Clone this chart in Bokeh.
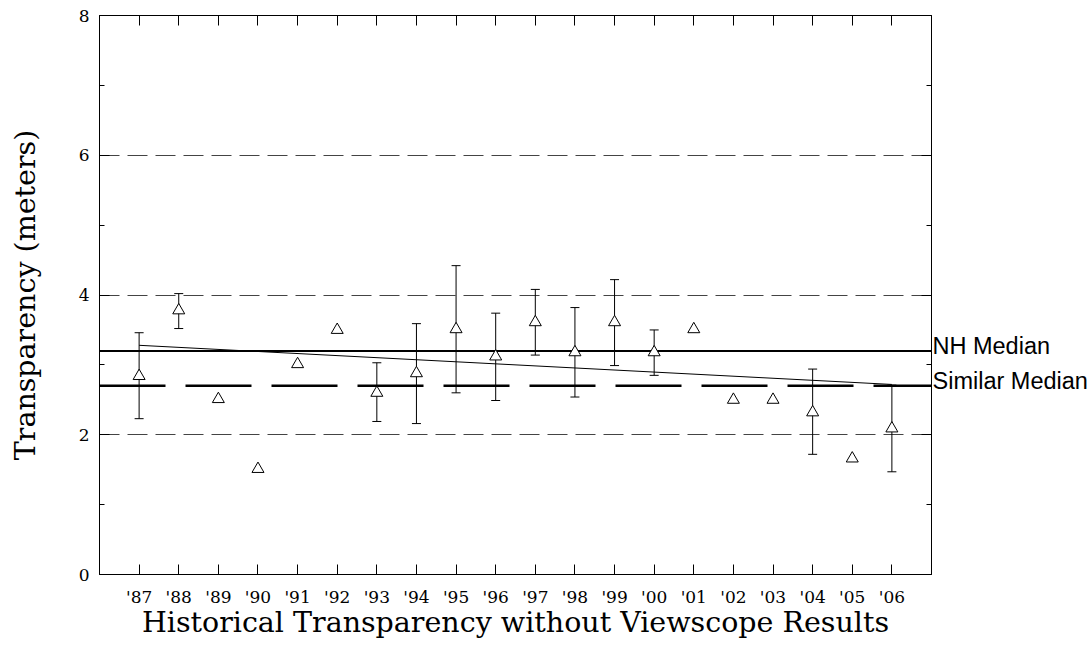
from bokeh.plotting import figure
from bokeh.models import (ColumnDataSource, Whisker, TeeHead, Span, LinearAxis,
                          FixedTicker, Range1d)
from bokeh.embed import file_html
from bokeh.resources import INLINE

# ---- data ----
years = ["'87", "'88", "'89", "'90", "'91", "'92", "'93", "'94", "'95", "'96",
         "'97", "'98", "'99", "'00", "'01", "'02", "'03", "'04", "'05", "'06"]
transparency = [2.84, 3.78, 2.51, 1.51, 3.01, 3.50, 2.60, 2.88, 3.51, 3.12,
                3.61, 3.18, 3.61, 3.18, 3.51, 2.50, 2.50, 2.32, 1.66, 2.09]
err_upper = [3.46, 4.02, None, None, None, None, 3.03, 3.59, 4.42, 3.74,
             4.08, 3.82, 4.22, 3.50, None, None, None, 2.94, None, 2.71]
err_lower = [2.23, 3.52, None, None, None, None, 2.19, 2.16, 2.60, 2.49,
             3.14, 2.54, 2.99, 2.85, None, None, None, 1.72, None, 1.47]
nh_median = 3.2
similar_median = 2.7
median_labels = ["NH Median", "Similar Median"]
trend = [3.28, 2.72]          # trend line value at first and last year
y_major = [0, 2, 4, 6, 8]
y_minor = [1, 3, 5, 7]
y_grid_values = [2, 4, 6]

xs = list(range(len(years)))

p = figure(width=1092, height=649, output_backend="svg", toolbar_location=None,
           x_range=Range1d(-1, len(years)), y_range=Range1d(0, 8),
           min_border_left=99, min_border_right=161, min_border_top=15, min_border_bottom=75,
           background_fill_color="white", border_fill_color="white")

p.outline_line_color = "black"
p.outline_line_width = 1

# grid
p.xgrid.visible = False
p.ygrid.ticker = FixedTicker(ticks=y_grid_values)
p.ygrid.grid_line_color = "#444444"
p.ygrid.grid_line_width = 1
p.ygrid.grid_line_dash = "20 8"

# axes
serif = "DejaVu Serif"
p.xaxis.ticker = FixedTicker(ticks=xs)
p.xaxis.major_label_overrides = {i: y for i, y in enumerate(years)}
p.yaxis.ticker = FixedTicker(ticks=y_major, minor_ticks=y_minor)
for ax in (p.xaxis[0], p.yaxis[0]):
    ax.major_tick_in = 10
    ax.major_tick_out = 0
    ax.minor_tick_in = 5
    ax.minor_tick_out = 0
    ax.axis_line_color = "black"
    ax.major_tick_line_color = "black"
    ax.minor_tick_line_color = "black"
    ax.major_label_text_font = serif
    ax.major_label_text_font_size = "17px"
    ax.major_label_text_color = "black"
    ax.axis_label_text_font = serif
    ax.axis_label_text_font_size = "28.5px"
    ax.axis_label_text_font_style = "normal"
    ax.axis_label_text_color = "black"
p.xaxis.minor_tick_line_color = None
p.xaxis.major_label_standoff = 12
p.xaxis.axis_label_standoff = -4
p.yaxis.major_label_standoff = 10
p.yaxis.axis_label_standoff = 34
p.xaxis.axis_label = "Historical Transparency without Viewscope Results"
p.yaxis.axis_label = "Transparency (meters)"

# mirrored ticks on top
top = LinearAxis(ticker=FixedTicker(ticks=xs), major_tick_in=10, major_tick_out=0,
                 minor_tick_line_color=None, axis_line_color="black",
                 major_tick_line_color="black", major_label_standoff=0,
                 major_label_overrides={i: "" for i in xs})
p.add_layout(top, "above")

# mirrored ticks on the right
right = LinearAxis(ticker=FixedTicker(ticks=y_major, minor_ticks=y_minor),
                   major_tick_in=10, major_tick_out=0, minor_tick_in=5, minor_tick_out=0,
                   axis_line_color="black", major_tick_line_color="black",
                   minor_tick_line_color="black", major_label_standoff=0,
                   major_label_overrides={v: "" for v in y_major})
p.add_layout(right, "right")

# median labels, written just above each median line, outside the frame
lift = 0.07
label_pos = [round(nh_median + lift, 3), round(similar_median + lift, 3)]
labels_axis = LinearAxis(ticker=FixedTicker(ticks=label_pos, minor_ticks=[]),
                         axis_line_color=None, major_tick_line_color=None,
                         minor_tick_line_color=None, major_tick_in=0, major_tick_out=0,
                         major_label_overrides={label_pos[0]: median_labels[0],
                                                label_pos[1]: median_labels[1]},
                         major_label_standoff=1,
                         major_label_text_font="Liberation Sans",
                         major_label_text_font_size="23.5px",
                         major_label_text_color="black")
p.add_layout(labels_axis, "right")

# median lines
p.add_layout(Span(location=nh_median, dimension="width", line_color="black",
                  line_width=2, level="underlay"))
p.add_layout(Span(location=similar_median, dimension="width", line_color="black",
                  line_width=2.5, line_dash="66 20", level="underlay"))

# trend line
p.line([xs[0], xs[-1]], trend, line_color="black", line_width=1)

# error bars
ex = [i for i in xs if err_upper[i] is not None]
err_src = ColumnDataSource(dict(x=ex, upper=[err_upper[i] for i in ex],
                                lower=[err_lower[i] for i in ex]))
p.add_layout(Whisker(source=err_src, base="x", upper="upper", lower="lower",
                     dimension="height", line_color="black", line_width=1,
                     upper_head=TeeHead(size=9, line_color="black", line_width=1),
                     lower_head=TeeHead(size=9, line_color="black", line_width=1)))

# points
src = ColumnDataSource(dict(x=xs, y=transparency))
p.scatter("x", "y", source=src, marker="triangle", size=12, fill_color="white",
          line_color="black", line_width=1)

open("out.html", "w").write(file_html(p, INLINE))
